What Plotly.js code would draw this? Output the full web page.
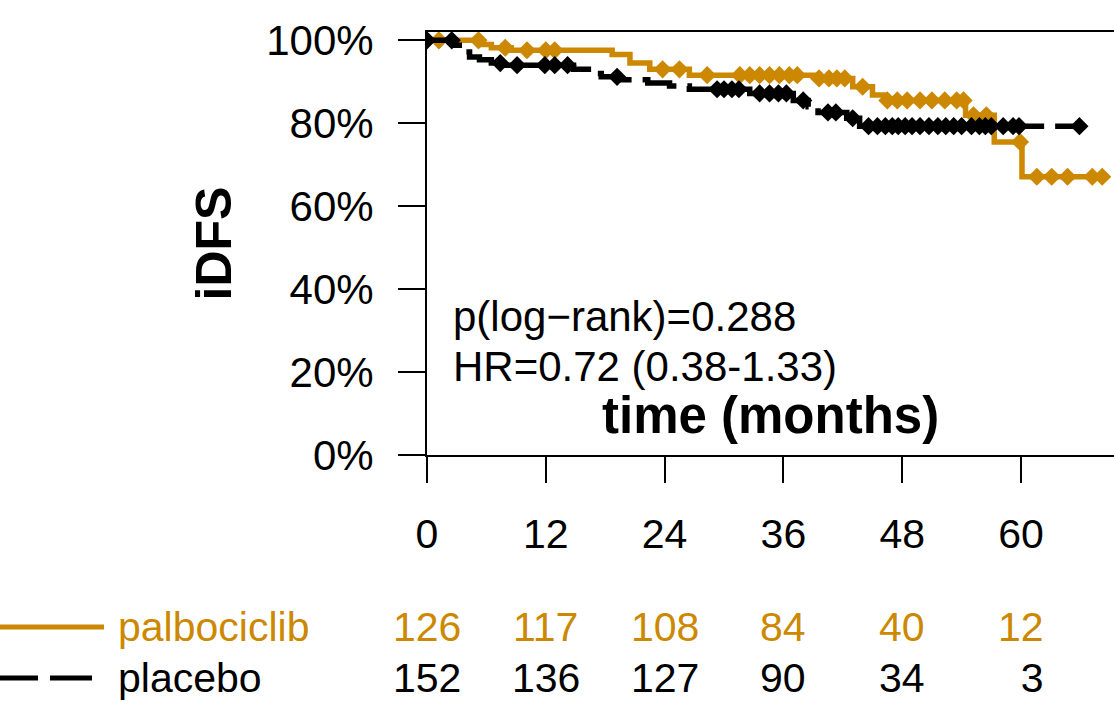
<!DOCTYPE html>
<html>
<head>
<meta charset="utf-8">
<script src="https://cdn.plot.ly/plotly-3.0.1.min.js"></script>
<style>html,body{margin:0;padding:0;background:#fff;}#chart{width:1114px;height:707px;}</style>
</head>
<body>
<div id="chart"></div>
<script>
// ---- data ----
const palboTime = [0, 5.5, 6.5, 8.5, 18.7, 20.5, 22.5, 26.5, 39.5, 43.0, 45.0, 46.2, 54.4, 57.3, 60.1, 68.7];
const palboSurv = [100, 99.0, 98.2, 97.6, 96.6, 94.5, 93.0, 91.6, 90.8, 88.8, 86.8, 85.5, 81.9, 75.5, 67.1, 67.1];
const palboCensor = [1.2, 5.2, 7.9, 10.1, 12.0, 12.9, 23.8, 25.5, 28.3, 31.6, 32.6, 33.6, 34.6, 35.6, 36.6, 37.4,
  39.6, 40.6, 41.4, 42.2, 44.0, 46.5, 47.5, 48.5, 49.8, 51.0, 52.3, 53.5, 54.2, 55.2, 56.5, 59.9, 61.6, 63.1, 64.7, 67.2, 68.2];

const placeboTime = [0, 2.8, 3.6, 4.3, 5.3, 6.5, 7.5, 14.8, 16.3, 17.6, 19.5, 22.3, 24.5, 26.5, 32.6, 37.0, 38.5, 39.5, 42.4, 43.7, 65.9];
const placeboSurv = [100, 98.8, 97.2, 96.0, 95.3, 94.5, 94.0, 93.0, 92.0, 91.2, 90.5, 89.7, 89.0, 88.2, 87.2, 85.5, 84.0, 82.6, 81.2, 79.3, 79.3];
const placeboCensor = [0, 2.5, 7.4, 9.1, 11.9, 12.9, 14.2, 19.2, 29.3, 30.0, 30.8, 31.5, 33.6, 34.6, 35.5, 36.3, 38.0, 40.5, 41.3,
  43.0, 44.6, 45.5, 46.3, 47.0, 47.6, 48.3, 49.0, 49.8, 50.7, 51.6, 52.4, 53.2, 54.0, 55.0, 55.8, 56.4, 57.0, 58.2, 59.2, 59.8, 65.9];

const xTicks = [0, 12, 24, 36, 48, 60];
const yTicks = [0, 20, 40, 60, 80, 100];
const yTickText = ['0%', '20%', '40%', '60%', '80%', '100%'];
const groups = ['palbociclib', 'placebo'];
const atRiskPalbo = [126, 117, 108, 84, 40, 12];
const atRiskPlacebo = [152, 136, 127, 90, 34, 3];
const statText = ['p(log\u2212rank)=0.288', 'HR=0.72 (0.38-1.33)'];

// ---- styling ----
const ORANGE = '#CC8800';
const BLACK = '#000000';
const FONT = 'Liberation Sans, Arial, Helvetica, sans-serif';
const W = 1114, H = 707;
const M = {l: 427, r: 0, t: 32, b: 252};
const PW = W - M.l - M.r, PH = H - M.t - M.b;
const px2px = x => (x - M.l) / PW;     // pixel x -> paper x
const py2py = y => (M.t + PH - y) / PH; // pixel y -> paper y

// survival value of a step curve at time t (for censor marks on the curve)
function stepAt(times, surv, t) {
  let v = surv[0];
  for (let i = 0; i < times.length; i++) { if (times[i] <= t) v = surv[i]; }
  return v;
}

const traces = [
  {x: palboTime, y: palboSurv, type: 'scatter', mode: 'lines', line: {shape: 'hv', color: ORANGE, width: 5.5}, name: groups[0], showlegend: false},
  {x: palboCensor, y: palboCensor.map(t => stepAt(palboTime, palboSurv, t)), type: 'scatter', mode: 'markers',
   marker: {symbol: 'diamond', size: 14, color: ORANGE, line: {width: 0}}, showlegend: false},
  {x: placeboTime, y: placeboSurv, type: 'scatter', mode: 'lines', line: {shape: 'hv', color: BLACK, width: 5.5, dash: '40px,11px'}, name: groups[1], showlegend: false},
  {x: placeboCensor, y: placeboCensor.map(t => stepAt(placeboTime, placeboSurv, t)), type: 'scatter', mode: 'markers',
   marker: {symbol: 'diamond', size: 14, color: BLACK, line: {width: 0}}, showlegend: false}
];

const annotations = [];
annotations.push({xref: 'paper', yref: 'paper', x: px2px(451), y: py2py(316), xanchor: 'left', yanchor: 'middle', showarrow: false,
  text: statText[0], font: {family: FONT, size: 42, color: BLACK}});
annotations.push({xref: 'paper', yref: 'paper', x: px2px(451), y: py2py(366), xanchor: 'left', yanchor: 'middle', showarrow: false,
  text: statText[1], font: {family: FONT, size: 42, color: BLACK}});
annotations.push({xref: 'paper', yref: 'paper', x: px2px(770), y: py2py(415), xanchor: 'center', yanchor: 'middle', showarrow: false,
  text: '<b>time (months)</b>', font: {family: FONT, size: 51, color: BLACK}});

const rows = [
  {label: groups[0], vals: atRiskPalbo, color: ORANGE, y: 627},
  {label: groups[1], vals: atRiskPlacebo, color: BLACK, y: 678}
];
rows.forEach(r => {
  annotations.push({xref: 'paper', yref: 'paper', x: px2px(116), y: py2py(r.y), xanchor: 'left', yanchor: 'middle', showarrow: false,
    text: r.label, font: {family: FONT, size: 41, color: r.color}});
  r.vals.forEach((v, i) => {
    annotations.push({xref: 'x', yref: 'paper', x: xTicks[i], y: py2py(r.y), xanchor: 'center', yanchor: 'middle', showarrow: false,
      text: String(v).padStart(2, '\u2007'), font: {family: FONT, size: 41, color: r.color}});
  });
});

const shapes = [
  {type: 'line', xref: 'paper', yref: 'paper', x0: px2px(0), x1: px2px(104), y0: py2py(627), y1: py2py(627),
   line: {color: ORANGE, width: 5}},
  {type: 'line', xref: 'paper', yref: 'paper', x0: px2px(-4), x1: px2px(92), y0: py2py(678), y1: py2py(678),
   line: {color: BLACK, width: 5, dash: '42px,12px'}}
];

const layout = {
  width: W, height: H,
  margin: M,
  paper_bgcolor: '#fff', plot_bgcolor: '#fff',
  font: {family: FONT, color: BLACK},
  showlegend: false,
  xaxis: {
    range: [0, PW / 9.9], autorange: false, showgrid: false, zeroline: false,
    showline: true, linecolor: BLACK, linewidth: 2, mirror: true,
    tickmode: 'array', tickvals: xTicks, ticktext: xTicks.map(String),
    ticks: 'outside', ticklen: 26, tickwidth: 2, tickcolor: BLACK,
    tickfont: {family: FONT, size: 41, color: BLACK}, ticklabelstandoff: 16
  },
  yaxis: {
    range: [0, 102], autorange: false, showgrid: false, zeroline: false,
    showline: true, linecolor: BLACK, linewidth: 2,
    tickmode: 'array', tickvals: yTicks, ticktext: yTickText,
    ticks: 'outside', ticklen: 27, tickwidth: 2, tickcolor: BLACK,
    tickfont: {family: FONT, size: 42, color: BLACK}, ticklabelstandoff: 16,
    title: {text: '<b>iDFS</b>', font: {family: FONT, size: 50, color: BLACK}, standoff: 19}
  },
  annotations: annotations,
  shapes: shapes
};

Plotly.newPlot('chart', traces, layout, {displayModeBar: false, staticPlot: true});
</script>
</body>
</html>
